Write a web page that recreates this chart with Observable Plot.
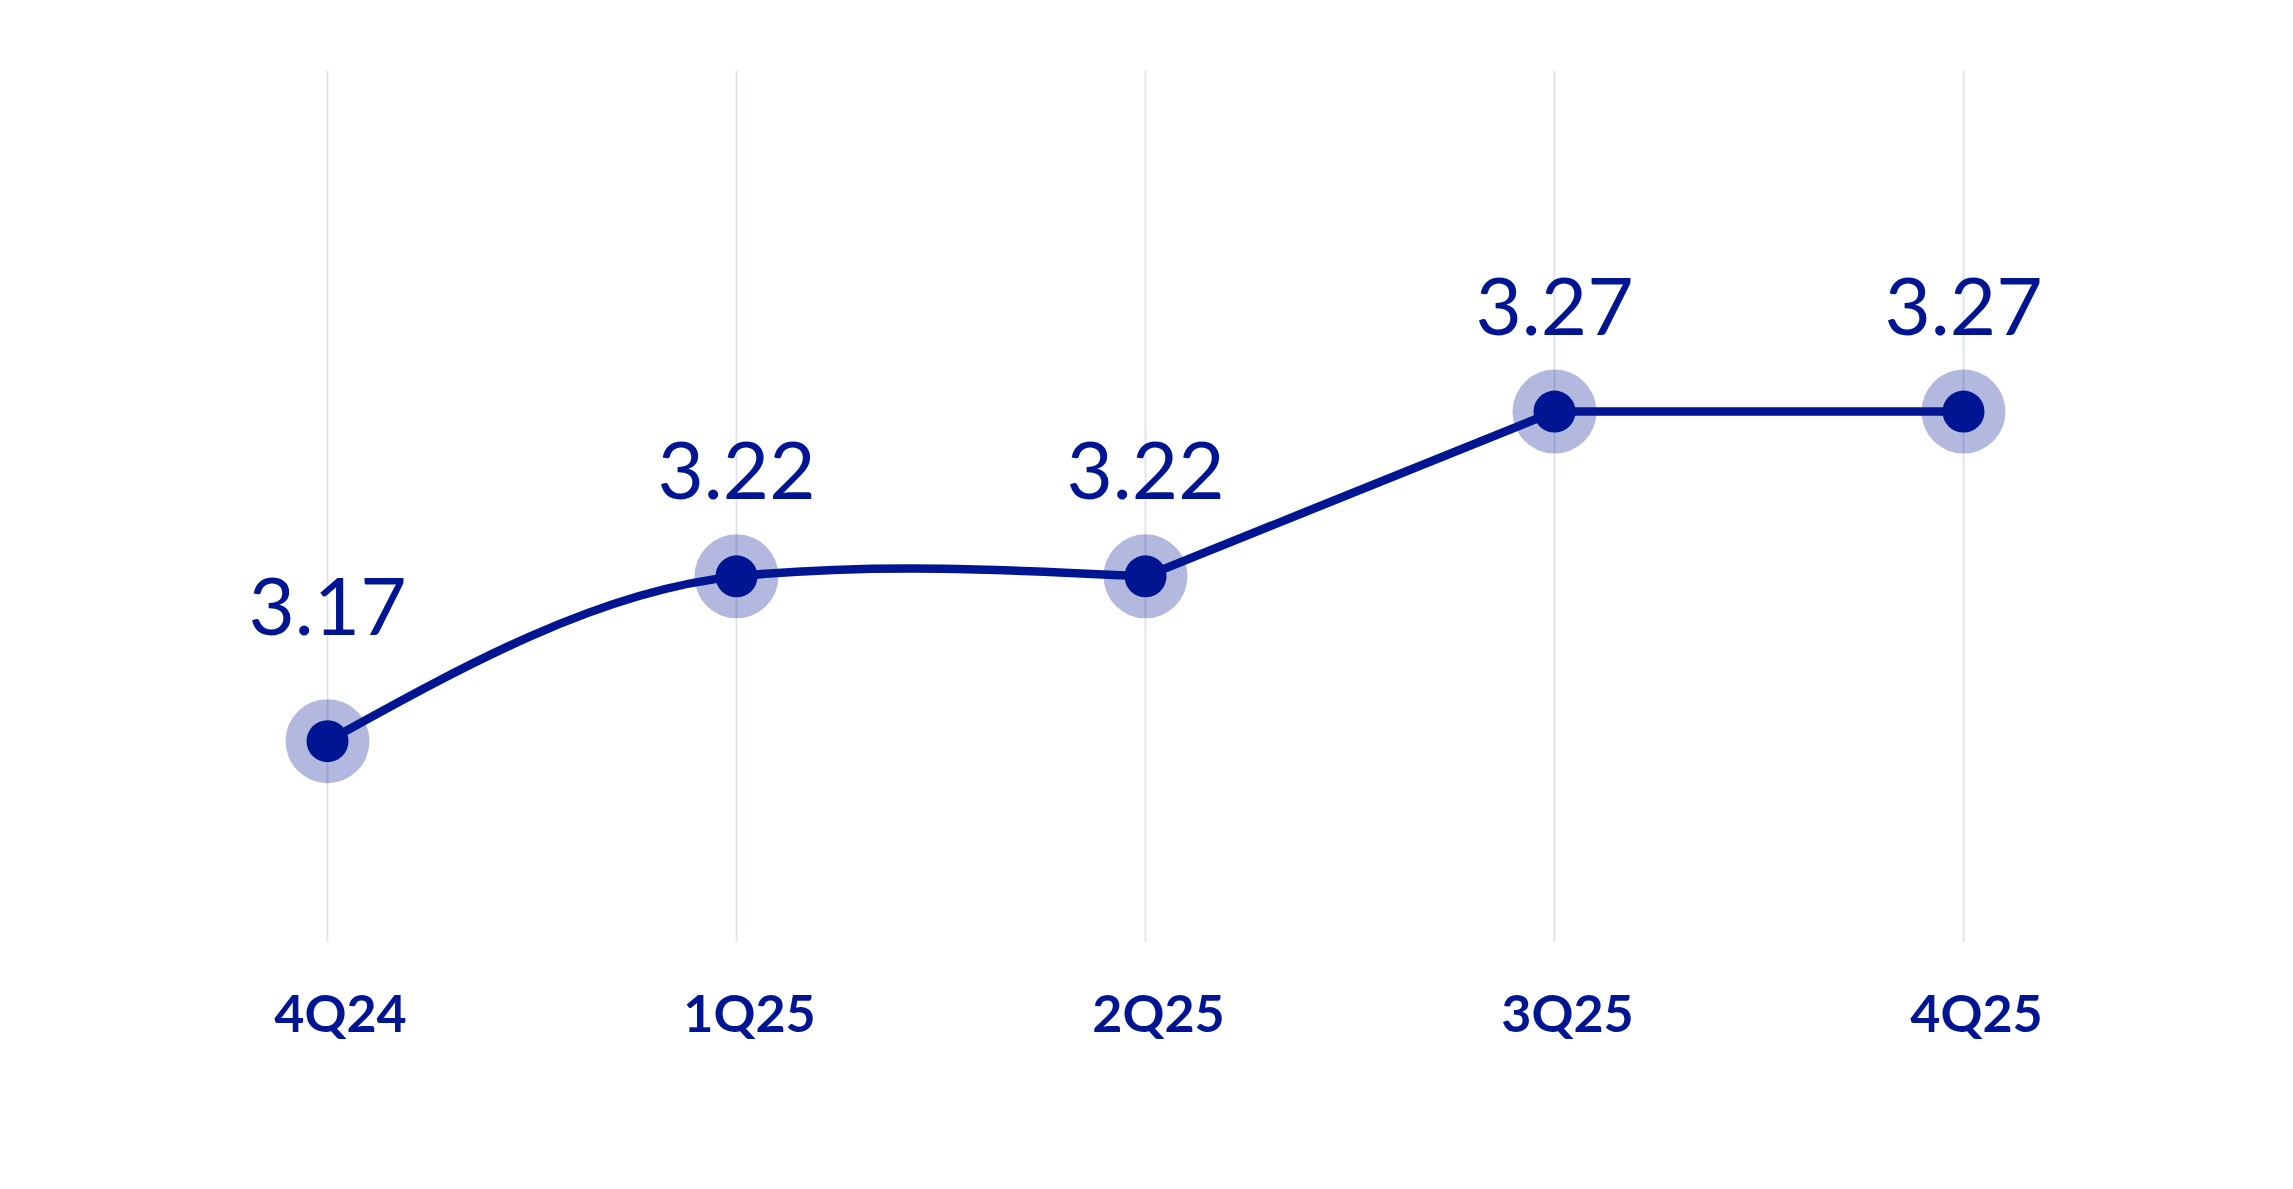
<!DOCTYPE html>
<html>
<head>
<meta charset="utf-8">
<script src="https://cdn.jsdelivr.net/npm/d3@7"></script>
<script src="https://cdn.jsdelivr.net/npm/@observablehq/plot@0.6"></script>
<style>
  html, body { margin: 0; padding: 0; background: #ffffff; }
  #chart { width: 2293px; height: 1189px; }
</style>
</head>
<body>
<div id="chart"></div>
<script>
// ---- data ----
const quarters = ["4Q24", "1Q25", "2Q25", "3Q25", "4Q25"];
const values = [3.17, 3.22, 3.22, 3.27, 3.27];
const valueLabels = ["3.17", "3.22", "3.22", "3.27", "3.27"];

const data = quarters.map((q, i) => ({ q, v: values[i], label: valueLabels[i] }));
const curvedPart = data.slice(0, 3);
const straightPart = data.slice(2);

const navy = "#001592";

// Hermite spline: cardinal-style interior tangents, monotone-style end tangents
function smoothCurve(tension) {
  return function (context) {
    let xs = [], ys = [];
    return {
      areaStart() {}, areaEnd() {},
      lineStart() { xs = []; ys = []; },
      point(x, y) { xs.push(+x); ys.push(+y); },
      lineEnd() {
        const n = xs.length;
        if (!n) return;
        context.moveTo(xs[0], ys[0]);
        if (n === 1) return;
        if (n === 2) { context.lineTo(xs[1], ys[1]); return; }
        const m = new Array(n);
        for (let i = 1; i < n - 1; i++) m[i] = (1 - tension) * (ys[i + 1] - ys[i - 1]) / (xs[i + 1] - xs[i - 1]);
        const s0 = (ys[1] - ys[0]) / (xs[1] - xs[0]);
        const sn = (ys[n - 1] - ys[n - 2]) / (xs[n - 1] - xs[n - 2]);
        m[0] = (3 * s0 - m[1]) / 2;
        m[n - 1] = (3 * sn - m[n - 2]) / 2;
        for (let i = 0; i < n - 1; i++) {
          const d = (xs[i + 1] - xs[i]) / 3;
          context.bezierCurveTo(xs[i] + d, ys[i] + d * m[i], xs[i + 1] - d, ys[i + 1] - d * m[i + 1], xs[i + 1], ys[i + 1]);
        }
      }
    };
  };
}

const chart = Plot.plot({
  width: 2293,
  height: 1189,
  marginLeft: 325,
  marginRight: 329,
  marginTop: 71,
  marginBottom: 247,
  style: { fontFamily: "Lato, 'Noto Sans', sans-serif", background: "#ffffff", color: navy, overflow: "visible" },
  x: { type: "point", domain: quarters, padding: 0, label: null },
  y: { domain: [3.1089, 3.3732], axis: null },
  marks: [
    Plot.ruleX(quarters, { stroke: "#dfe2ea", strokeWidth: 1.8 }),
    Plot.dot(data, { x: "q", y: "v", r: 42, fill: navy, fillOpacity: 0.3, stroke: null }),
    Plot.line(curvedPart, { x: "q", y: "v", curve: smoothCurve(0.5), stroke: navy, strokeWidth: 8.5 }),
    Plot.line(straightPart, { x: "q", y: "v", stroke: navy, strokeWidth: 8.5 }),
    Plot.dot(data, { x: "q", y: "v", r: 21, fill: navy, stroke: null }),
    Plot.text(data.slice(0, 1), { x: "q", y: "v", text: "label", dy: -106, lineAnchor: "bottom", fontSize: 80, fill: navy }),
    Plot.text(data.slice(1), { x: "q", y: "v", text: "label", dy: -77, lineAnchor: "bottom", fontSize: 80, fill: navy }),
    Plot.axisX({ tickSize: 0, tickPadding: 53, fontSize: 52, fontWeight: "bold", dx: 13, fill: navy, label: null })
  ]
});

document.getElementById("chart").appendChild(chart);
</script>
</body>
</html>
